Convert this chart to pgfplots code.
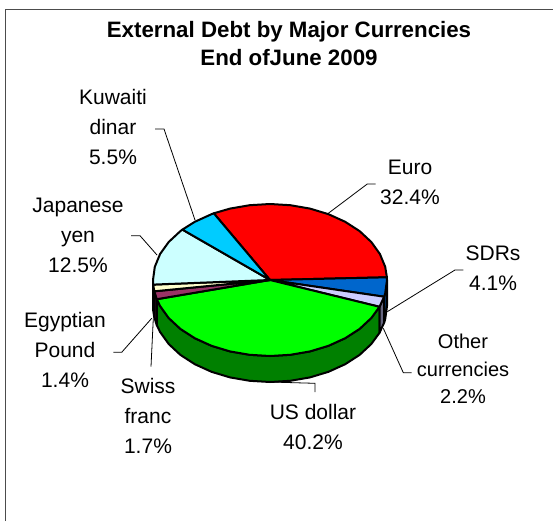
\documentclass[border=0pt]{standalone}
\usepackage{fontspec}
\setmainfont{Liberation Sans}
\usepackage{pgfplots}
\pgfplotsset{compat=1.18}
\definecolor{euro}{HTML}{FF0000}
\definecolor{sdr}{HTML}{0066CC}
\definecolor{other}{HTML}{CCCCFF}
\definecolor{usd}{HTML}{00FF00}
\definecolor{chf}{HTML}{993366}
\definecolor{egp}{HTML}{FFFFCC}
\definecolor{jpy}{HTML}{CCFFFF}
\definecolor{kwd}{HTML}{00CCFF}
\definecolor{sdrside}{HTML}{003366}
\definecolor{otherside}{HTML}{666680}
\definecolor{usdside}{HTML}{008000}
\definecolor{chfside}{HTML}{4D1A33}
\definecolor{egpside}{HTML}{808066}
\definecolor{jpyside}{HTML}{668080}
\tikzset{
  pie/.style={draw=black, line width=2pt, line join=round, xshift=1.5pt},
  leader/.style={draw=black, line width=0.8pt},
  lab/.style={font=\fontsize{21}{30}\selectfont, align=center, text=black, inner sep=0pt},
}
\begin{document}
\begin{tikzpicture}
\begin{axis}[
  hide axis, scale only axis,
  width=553pt, height=521pt,
  xmin=0, xmax=553, ymin=0, ymax=521, y dir=reverse,
]
% page background and chart area border
\addplot[fill=white, draw=none] coordinates {(0,0) (553,0) (553,521) (0,521)} --cycle;
\addplot[draw=black!70, line width=1.4pt] coordinates {(5.5,521) (5.5,9.5) (553,9.5)};

% leader lines
\addplot[leader] coordinates {(155,129) (164,129) (195,220)};
\addplot[leader] coordinates {(131,235.7) (140,235.7) (157,255)};
\addplot[leader] coordinates {(375.7,184) (367.3,184) (328.3,213.3)};
\addplot[leader] coordinates {(463.3,270) (455,270) (387.3,311.7)};
\addplot[leader] coordinates {(411.7,372.7) (403.3,372.7) (383.3,328.3)};
\addplot[leader] coordinates {(269,382) (315,383.3) (315,392)};
\addplot[leader] coordinates {(151,366.7) (153.3,318.3)};
\addplot[leader] coordinates {(113.3,352.3) (121.7,352.3) (151.7,318.3)};

% rim of the disc, depth 26
\addplot[pie, fill=jpyside] coordinates {(151.5,280) (151.7,284.6) (151.7,310.6) (151.5,306)} --cycle;
\addplot[pie, fill=egpside] coordinates {(151.7,284.6) (152.8,291.3) (152.8,317.3) (151.7,310.6)} --cycle;
\addplot[pie, fill=chfside] coordinates {(152.8,291.3) (155.3,299.2) (155.3,325.2) (152.8,317.3)} --cycle;
\addplot[pie, fill=usdside] coordinates {
  (155.3,299.2) (158.6,306) (167.2,318) (178.9,328.9) (193.3,338.2) (210,345.8) (228.5,351.4)
  (248.2,354.8) (268.5,356) (288.8,354.8) (308.5,351.4) (327,345.8) (343.7,338.2) (358.1,328.9)
  (369.8,318) (378,306.8)
  (378,332.8) (369.8,344) (358.1,354.9) (343.7,364.2) (327,371.8) (308.5,377.4) (288.8,380.8)
  (268.5,382) (248.2,380.8) (228.5,377.4) (210,371.8) (193.3,364.2) (178.9,354.9) (167.2,344)
  (158.6,332) (155.3,325.2)} --cycle;
\addplot[pie, fill=otherside] coordinates {(378,306.8) (382.6,296.7) (382.6,322.7) (378,332.8)} --cycle;
\addplot[pie, fill=sdrside] coordinates {(382.6,296.7) (383.7,293.2) (385.5,280) (385.5,306) (383.7,319.2) (382.6,322.7)} --cycle;

% top face, one wedge per currency, clockwise from the Euro
\addplot[pie, fill=euro] coordinates {
  (268.5,280) (385.4,277.3) (383.7,266.8) (378.4,254) (369.8,242) (358.1,231.1) (343.7,221.8)
  (327,214.2) (308.5,208.6) (288.8,205.2) (268.5,204) (248.2,205.2) (228.5,208.6) (212.3,213.3)} --cycle;
\addplot[pie, fill=sdr] coordinates {(268.5,280) (382.6,296.7) (383.7,293.2) (385.5,280) (385.4,277.3)} --cycle;
\addplot[pie, fill=other] coordinates {(268.5,280) (378,306.8) (382.6,296.7)} --cycle;
\addplot[pie, fill=usd] coordinates {
  (268.5,280) (155.3,299.2) (158.6,306) (167.2,318) (178.9,328.9) (193.3,338.2) (210,345.8)
  (228.5,351.4) (248.2,354.8) (268.5,356) (288.8,354.8) (308.5,351.4) (327,345.8) (343.7,338.2)
  (358.1,328.9) (369.8,318) (378,306.8)} --cycle;
\addplot[pie, fill=chf] coordinates {(268.5,280) (152.8,291.3) (155.3,299.2)} --cycle;
\addplot[pie, fill=egp] coordinates {(268.5,280) (151.7,284.6) (152.8,291.3)} --cycle;
\addplot[pie, fill=jpy] coordinates {
  (268.5,280) (180.9,229.6) (178.9,231.1) (167.2,242) (158.6,254) (153.3,266.8) (151.5,280) (151.7,284.6)} --cycle;
\addplot[pie, fill=kwd] coordinates {(268.5,280) (212.3,213.3) (210,214.2) (193.3,221.8) (180.9,229.6)} --cycle;

% title
\node[font=\fontsize{22.3}{28}\selectfont\bfseries, align=center, inner sep=0pt, text=black]
  at (axis cs:289,44) {External Debt by Major Currencies\\End ofJune 2009};

% slice labels
\node[lab] at (axis cs:113,127) {Kuwaiti\\dinar\\5.5\%};
\node[lab] at (axis cs:78,235) {Japanese\\yen\\12.5\%};
\node[lab] at (axis cs:65,350) {Egyptian\\Pound\\1.4\%};
\node[lab] at (axis cs:148,416) {Swiss\\franc\\1.7\%};
\node[lab] at (axis cs:313,427) {US dollar\\40.2\%};
\node[lab] at (axis cs:410,182) {Euro\\32.4\%};
\node[lab] at (axis cs:493,268) {SDRs\\4.1\%};
\node[lab, font=\fontsize{20}{27.5}\selectfont] at (axis cs:463,369) {Other\\currencies\\2.2\%};
\end{axis}
\end{tikzpicture}
\end{document}
